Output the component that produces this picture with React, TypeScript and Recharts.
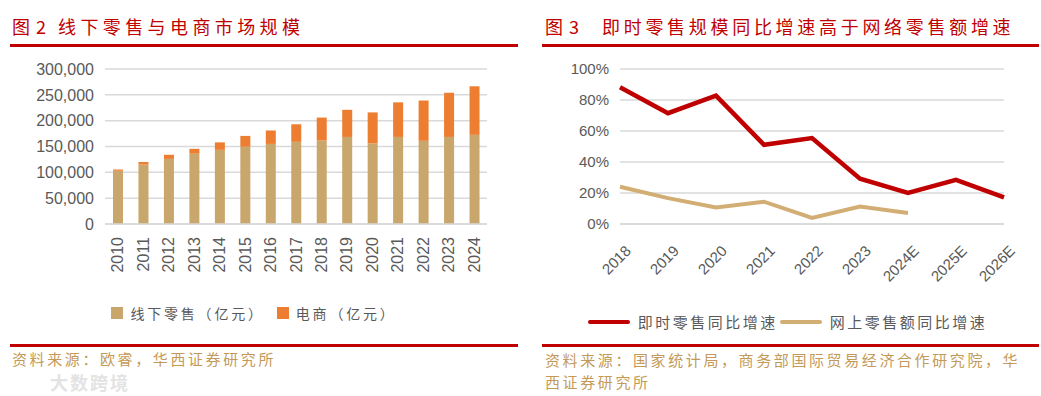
import { Bar, BarChart, CartesianGrid, Legend, Line, LineChart, XAxis, YAxis } from "recharts";

// 图2 线下零售与电商市场规模（亿元）
const years = ["2010", "2011", "2012", "2013", "2014", "2015", "2016", "2017", "2018", "2019", "2020", "2021", "2022", "2023", "2024"];
const offline = [103000, 115000, 126000, 136000, 143500, 149500, 155000, 159000, 161500, 168500, 156000, 168500, 161000, 168500, 172500];
const online = [2500, 5000, 8000, 9500, 14500, 21000, 26000, 34000, 44500, 52500, 60000, 67000, 78000, 85500, 94000];
const barTicks = [0, 50000, 100000, 150000, 200000, 250000, 300000];

// 图3 即时零售 vs 网上零售额 同比增速（%）
const periods = ["2018", "2019", "2020", "2021", "2022", "2023", "2024E", "2025E", "2026E"];
const instantGrowth = [88.2, 71.5, 82.8, 51.1, 55.4, 29.2, 20.0, 28.5, 17.2];
const onlineGrowth = [24.0, 16.7, 10.7, 14.4, 3.9, 11.2, 7.1, null, null];
const pctTicks = [0, 20, 40, 60, 80, 100];

const barData = years.map((y, i) => ({ year: y, offline: offline[i], online: online[i] }));
const lineData = periods.map((p, i) => ({ period: p, instant: instantGrowth[i], web: onlineGrowth[i] }));
const barOrder = ["offline", "online"];

const RED = "#C00000";
const TAN = "#C9A66B";
const ORANGE = "#ED7D31";
const TAN_LINE = "#D2AE74";
const GRID = "#D9D9D9";
const AXIS_TEXT = "#595959";
const SOURCE = "#C49A58";
const CJK = '"Noto Sans CJK SC", sans-serif';
const NUM = '"Liberation Sans", Arial, sans-serif';

function VerticalTick({ x, y, payload }: any) {
  return (
    <text
      x={x}
      y={y}
      transform={`rotate(-90, ${x}, ${y})`}
      textAnchor="end"
      dominantBaseline="central"
      fill={AXIS_TEXT}
      fontSize={16}
      fontFamily={NUM}
    >
      {payload.value}
    </text>
  );
}

function SlantTick({ x, y, payload }: any) {
  const tx = x + 8;
  return (
    <text
      x={tx}
      y={y}
      transform={`rotate(-45, ${tx}, ${y})`}
      textAnchor="end"
      dominantBaseline="central"
      fill={AXIS_TEXT}
      fontSize={15}
      fontFamily={NUM}
    >
      {payload.value}
    </text>
  );
}

function BarLegend({ payload }: any) {
  const items = [...(payload || [])].sort(
    (a: any, b: any) => barOrder.indexOf(a.dataKey) - barOrder.indexOf(b.dataKey)
  );
  return (
    <div style={{ display: "flex", justifyContent: "center", alignItems: "center", fontFamily: CJK, fontSize: 14, color: AXIS_TEXT, letterSpacing: 2.8 }}>
      {items.map((p: any) => (
        <div key={p.value} style={{ display: "flex", alignItems: "center", marginRight: 12 }}>
          <span style={{ width: 12, height: 12, background: p.color, marginRight: 7, display: "inline-block" }} />
          <span>{p.value}</span>
        </div>
      ))}
    </div>
  );
}

function LineLegend({ payload }: any) {
  return (
    <div style={{ display: "flex", justifyContent: "center", alignItems: "center", fontFamily: CJK, fontSize: 15, color: AXIS_TEXT, letterSpacing: 2.5, paddingLeft: 16 }}>
      {(payload || []).map((p: any) => (
        <div key={p.value} style={{ display: "flex", alignItems: "center", marginRight: 2 }}>
          <span style={{ width: 42, height: 4, borderRadius: 2, background: p.color, marginRight: 8, display: "inline-block" }} />
          <span>{p.value}</span>
        </div>
      ))}
    </div>
  );
}

const rule = (left: number, width: number, top: number) => (
  <div style={{ position: "absolute", left, top, width, height: 3, background: RED }} />
);

const titleStyle = (left: number, spacing = 0): any => ({
  position: "absolute",
  left,
  top: 14,
  fontFamily: CJK,
  fontSize: 18,
  lineHeight: "24px",
  color: RED,
  letterSpacing: spacing,
  whiteSpace: "nowrap",
});

export default function App() {
  return (
    <div style={{ position: "absolute", left: 0, top: 0, width: 1041, height: 396, background: "#fff", overflow: "hidden" }}>
      {/* titles */}
      <div style={titleStyle(12)}>图</div>
      <div style={titleStyle(36)}>2</div>
      <div style={titleStyle(58, 4.4)}>线下零售与电商市场规模</div>
      <div style={titleStyle(545)}>图</div>
      <div style={titleStyle(569)}>3</div>
      <div style={titleStyle(602, 3.7)}>即时零售规模同比增速高于网络零售额增速</div>
      {rule(10, 508, 44)}
      {rule(542, 497, 44)}

      {/* left: stacked bars */}
      <div style={{ position: "absolute", left: 0, top: 0 }}>
        <BarChart width={520} height={300} data={barData} margin={{ top: 69, right: 33, bottom: 26, left: 5 }} barSize={10}>
          <CartesianGrid stroke={GRID} strokeWidth={1.5} vertical={false} />
          <XAxis
            dataKey="year"
            height={50}
            tickLine={false}
            tickMargin={7}
            axisLine={{ stroke: GRID, strokeWidth: 1.5 }}
            tick={<VerticalTick />}
            interval={0}
          />
          <YAxis
            width={100}
            domain={[0, 300000]}
            ticks={barTicks}
            tickFormatter={(v) => v.toLocaleString("en-US")}
            tickLine={false}
            axisLine={false}
            tickMargin={5}
            tick={{ fill: AXIS_TEXT, fontSize: 16, fontFamily: NUM }}
          />
          <Legend
            verticalAlign="middle"
            align="center"
            wrapperStyle={{ top: 303, left: 0, width: 520 }}
            content={<BarLegend />}
          />
          <Bar dataKey="offline" name="线下零售（亿元）" stackId="a" fill={TAN} isAnimationActive={false} />
          <Bar dataKey="online" name="电商（亿元）" stackId="a" fill={ORANGE} isAnimationActive={false} />
        </BarChart>
      </div>

      {/* right: growth lines */}
      <div style={{ position: "absolute", left: 520, top: 0 }}>
        <LineChart width={521} height={300} data={lineData} margin={{ top: 69, right: 37, bottom: 26, left: 5 }}>
          <CartesianGrid stroke={GRID} strokeWidth={1.5} vertical={false} />
          <XAxis
            dataKey="period"
            height={50}
            tickLine={false}
            tickMargin={18}
            axisLine={{ stroke: GRID, strokeWidth: 1.5 }}
            tick={<SlantTick />}
            interval={0}
          />
          <YAxis
            width={95}
            domain={[0, 100]}
            ticks={pctTicks}
            tickFormatter={(v) => `${v}%`}
            tickLine={false}
            axisLine={false}
            tickMargin={5}
            tick={{ fill: AXIS_TEXT, fontSize: 15, fontFamily: NUM }}
          />
          <Legend
            verticalAlign="middle"
            align="center"
            wrapperStyle={{ top: 311, left: 0, width: 521 }}
            content={<LineLegend />}
          />
          <Line type="linear" dataKey="instant" name="即时零售同比增速" stroke={RED} strokeWidth={4.5} dot={false} isAnimationActive={false} />
          <Line type="linear" dataKey="web" name="网上零售额同比增速" stroke={TAN_LINE} strokeWidth={4} dot={false} isAnimationActive={false} />
        </LineChart>
      </div>

      {/* bottom rules and sources */}
      {rule(10, 508, 344)}
      {rule(542, 497, 344)}
      <div style={{ position: "absolute", left: 50, top: 372, fontFamily: CJK, fontSize: 18, fontWeight: 700, lineHeight: "20px", color: "#E3E3E3", letterSpacing: 2 }}>
        大数跨境
      </div>
      <div style={{ position: "absolute", left: 12, top: 349, fontFamily: CJK, fontSize: 15, lineHeight: "20px", color: SOURCE, letterSpacing: 2.6, whiteSpace: "nowrap" }}>
        资料来源：欧睿，华西证券研究所
      </div>
      <div style={{ position: "absolute", left: 545, top: 349, width: 490, fontFamily: CJK, fontSize: 15, lineHeight: "22px", color: SOURCE, letterSpacing: 2.6 }}>
        资料来源：国家统计局，商务部国际贸易经济合作研究院，华西证券研究所
      </div>
    </div>
  );
}
